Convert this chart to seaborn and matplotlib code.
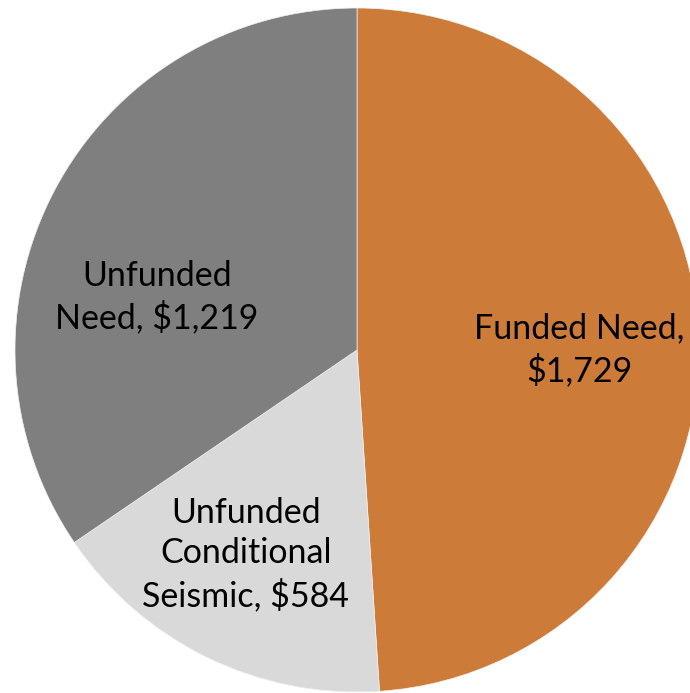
import numpy as np
import pandas as pd
import matplotlib
matplotlib.use('Agg')
import matplotlib.pyplot as plt
import seaborn as sns

#####################################
# data
categories = ['Funded Need', 'Unfunded Conditional Seismic', 'Unfunded Need']
values = [1729, 584, 1219]
labels = ['Funded Need,\n$1,729', 'Unfunded\nConditional\nSeismic, $584', 'Unfunded\nNeed, $1,219']
colors = ['#CD7B38', '#D9D9D9', '#7F7F7F']
# where the labels sit inside the pie (radius units)
label_pos = [(0.65, 0.0), (-0.325, -0.598), (-0.585, 0.155)]

#####################################
sns.set_style('white')
plt.rcParams['font.family'] = ['Lato', 'DejaVu Sans']

fig = plt.figure(figsize=(6.9, 6.93), dpi=100)
ax = fig.add_axes([0, 0, 1, 1])

df = pd.DataFrame({'category': categories, 'value': values})
wedges, texts = ax.pie(df['value'], labels=labels, colors=colors,
                       startangle=90, counterclock=False,
                       radius=1.0, labeldistance=0.65,
                       wedgeprops={'linewidth': 0.5, 'edgecolor': '#f0f0f0'},
                       textprops={'fontsize': 24.5, 'color': 'black',
                                  'ha': 'center', 'va': 'center',
                                  'linespacing': 1.33})
for t, pos in zip(texts, label_pos):
    t.set_position(pos)
    t.set_horizontalalignment('center')
    t.set_multialignment('center')

# pie center at pixel (357, 350), radius 342 px
scale = 342
ax.set_xlim(-357 / scale, (690 - 357) / scale)
ax.set_ylim(-(693 - 350) / scale, 350 / scale)
ax.set_aspect('auto')
ax.axis('off')

fig.savefig('out.png', dpi=100)
